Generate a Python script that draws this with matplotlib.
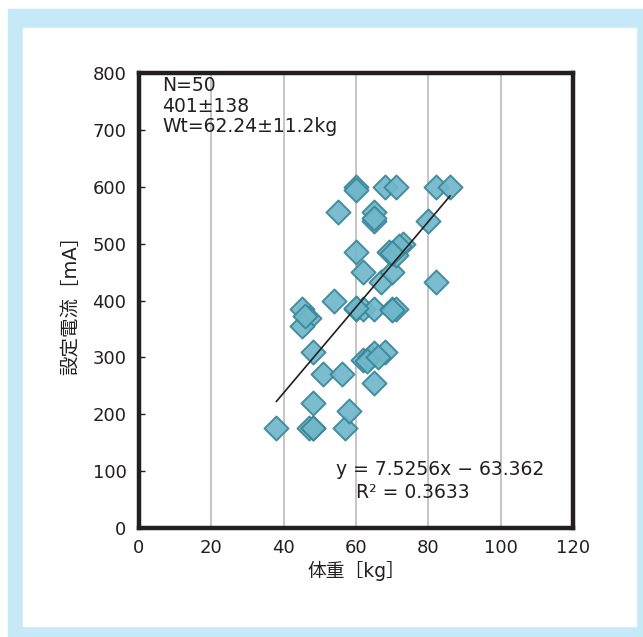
import numpy as np
import matplotlib.pyplot as plt
from matplotlib.patches import Rectangle

plt.rcParams["font.family"] = ["DejaVu Sans", "Noto Sans CJK JP"]

# body weight (kg) and set current (mA) per patient
weight = [38, 47, 48, 48, 57, 58, 48, 48, 51, 56,
          65, 45, 47, 45, 54, 60, 62, 65, 70, 71,
          82, 62, 64, 65, 68, 62, 67, 70, 60, 60,
          68, 71, 82, 86, 55, 65, 65, 80, 60, 73,
          69, 71, 63, 66, 72, 70, 65, 60, 70, 46]
current = [175, 175, 175, 176, 175, 205, 220, 310, 270, 270,
           255, 385, 370, 355, 400, 385, 385, 385, 385, 385,
           433, 295, 300, 307, 310, 450, 433, 450, 600, 595,
           600, 600, 600, 600, 555, 555, 540, 540, 485, 500,
           485, 480, 293, 300, 495, 483, 545, 386, 384, 372]

slope, intercept = 7.5256, -63.362
r2 = 0.3633
ink = "#231f20"

fig = plt.figure(figsize=(6.43, 6.37), dpi=100)

# light blue frame around the figure
fig.patches.append(Rectangle((8 / 643, 0), 635 / 643, 628 / 637,
                             transform=fig.transFigure, color="#c6e9f8", zorder=-2))
fig.patches.append(Rectangle((23 / 643, 11 / 637), 613 / 643, 598 / 637,
                             transform=fig.transFigure, color="white", zorder=-1))

ax = fig.add_axes([139 / 643, 1 - 528 / 637, 434 / 643, 455 / 637])
ax.set_zorder(1)
ax.set_xlim(0, 120)
ax.set_ylim(0, 800)
ax.set_xticks(np.arange(0, 121, 20))
ax.set_yticks(np.arange(0, 801, 100))
ax.xaxis.grid(True, color="#c0c0c0", linewidth=1.3)
ax.set_axisbelow(True)

for s in ax.spines.values():
    s.set_linewidth(3.2)
    s.set_color(ink)

ax.tick_params(axis="y", direction="in", length=4, width=1, labelsize=13,
               colors=ink, pad=9)
ax.tick_params(axis="x", length=0, labelsize=13, colors=ink, pad=8)

ax.scatter(weight, current, marker="D", s=150, color="#70b7ca",
           edgecolor="#3b8799", linewidth=1.4, alpha=0.92, zorder=3)

xs = np.array([min(weight), max(weight)])
ax.plot(xs, slope * xs + intercept, color=ink, linewidth=1.2, zorder=4)

ax.text(6.5, 794, "N=50\n401±138\nWt=62.24±11.2kg", fontsize=13.5,
        va="top", ha="left", linespacing=1.1, color=ink)
ax.text(54.5, 102, "y = 7.5256x − 63.362", fontsize=13.5, va="center", color=ink)
ax.text(60, 63, f"R² = {r2}", fontsize=13.5, va="center", color=ink)

ax.set_xlabel("体重［kg］", fontsize=13.5, color=ink, labelpad=3)
ax.set_ylabel("設定電流［mA］", fontsize=14, color=ink, labelpad=9)

fig.savefig("out.png", dpi=100)
